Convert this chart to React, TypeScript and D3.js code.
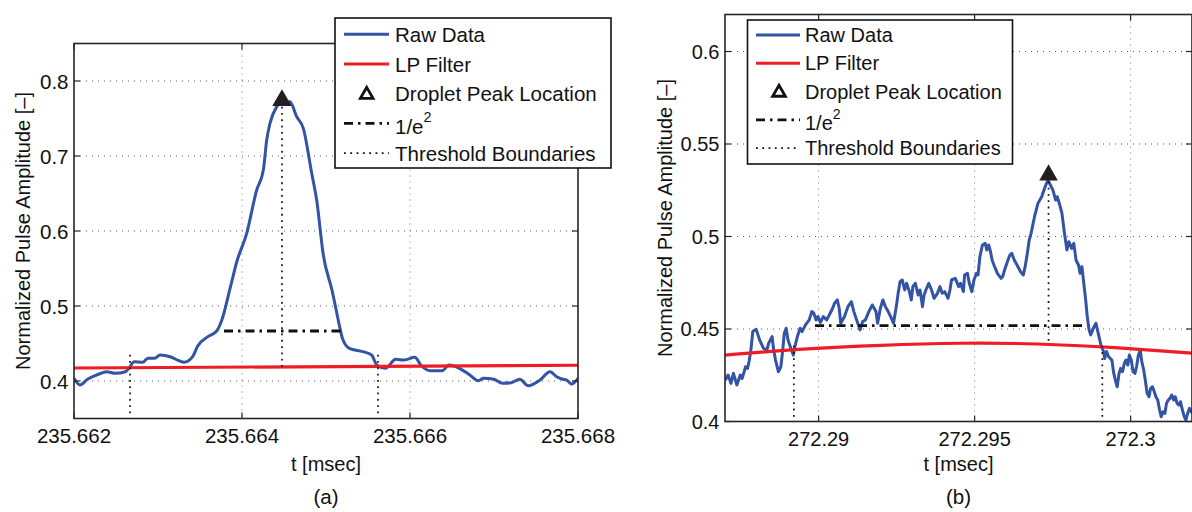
import React from 'react';
import * as d3 from 'd3';

const FONT = '"Liberation Sans", Arial, Helvetica, sans-serif';
const BLUE = '#3353a5';
const RED = '#ee1d25';
const INK = '#111111';

// ---------------- Panel (a) data ----------------
const xTicksA = [235.662, 235.664, 235.666, 235.668];
const xTickLabelsA = ['235.662', '235.664', '235.666', '235.668'];
const yTicksA = [0.4, 0.5, 0.6, 0.7, 0.8];
const yTickLabelsA = ['0.4', '0.5', '0.6', '0.7', '0.8'];

const rawTA = [
  235.662000, 235.662071, 235.662161, 235.662270, 235.662325, 235.662389, 235.662488, 235.662612, 235.662667, 235.662714,
  235.662817, 235.662879, 235.662961, 235.663024, 235.663145, 235.663248, 235.663310, 235.663412, 235.663473, 235.663595,
  235.663699, 235.663760, 235.663863, 235.663937, 235.664056, 235.664175, 235.664254, 235.664294, 235.664333, 235.664413,
  235.664473, 235.664571, 235.664651, 235.664730, 235.664830, 235.664889, 235.664968, 235.665071, 235.665174, 235.665195,
  235.665277, 235.665440, 235.665543, 235.665605, 235.665707, 235.665830, 235.665932, 235.666056, 235.666138, 235.666240,
  235.666383, 235.666465, 235.666588, 235.666712, 235.666814, 235.666876, 235.666999, 235.667101, 235.667204, 235.667307,
  235.667408, 235.667548, 235.667667, 235.667746, 235.667819, 235.667865, 235.667925, 235.668000,
];
const rawVA = [
  0.4036, 0.3947, 0.4023, 0.4080, 0.4103, 0.4124, 0.4103, 0.4124, 0.4191, 0.4257,
  0.4249, 0.4303, 0.4303, 0.4347, 0.4324, 0.4271, 0.4249, 0.4324, 0.4467, 0.4591,
  0.4667, 0.4813, 0.5257, 0.5587, 0.5969, 0.6547, 0.6813, 0.7213, 0.7436, 0.7657,
  0.7724, 0.7724, 0.7524, 0.7369, 0.6769, 0.6413, 0.5680, 0.5213, 0.4667, 0.4569,
  0.4436, 0.4391, 0.4347, 0.4213, 0.4169, 0.4289, 0.4280, 0.4316, 0.4200, 0.4137,
  0.4137, 0.4213, 0.4169, 0.4080, 0.4004, 0.4036, 0.4023, 0.3969, 0.3977, 0.4023,
  0.3937, 0.4013, 0.4124, 0.4057, 0.4023, 0.4013, 0.3960, 0.4036,
];
const lpTA = [235.662, 235.668];
const lpVA = [0.4173, 0.421];
const peakTA = 235.664476;
const peakVA = 0.7741;
const peakBaseA = 0.4195;
const e2TA = [235.663786, 235.665179];
const e2VA = 0.4667;
const thrTA = [235.662667, 235.665619];
const thrVA = [0.357, 0.441];

// ---------------- Panel (b) data ----------------
const xTicksB = [272.29, 272.295, 272.3];
const xTickLabelsB = ['272.29', '272.295', '272.3'];
const yTicksB = [0.4, 0.45, 0.5, 0.55, 0.6];
const yTickLabelsB = ['0.4', '0.45', '0.5', '0.55', '0.6'];

const rawTB = [
  272.28701, 272.28710, 272.28719, 272.28727, 272.28738, 272.28749, 272.28755, 272.28766, 272.28772, 272.28777,
  272.28783, 272.28789, 272.28800, 272.28811, 272.28823, 272.28834, 272.28840, 272.28851, 272.28856, 272.28862,
  272.28871, 272.28879, 272.28885, 272.28890, 272.28896, 272.28902, 272.28913, 272.28919, 272.28924, 272.28932,
  272.28941, 272.28947, 272.28958, 272.28970, 272.28978, 272.28984, 272.28992, 272.28998, 272.29006, 272.29015,
  272.29026, 272.29037, 272.29045, 272.29051, 272.29060, 272.29066, 272.29071, 272.29083, 272.29094, 272.29105,
  272.29113, 272.29122, 272.29133, 272.29141, 272.29150, 272.29161, 272.29172, 272.29184, 272.29189, 272.29198,
  272.29206, 272.29214, 272.29223, 272.29231, 272.29240, 272.29249, 272.29255, 272.29261, 272.29268, 272.29276,
  272.29282, 272.29291, 272.29297, 272.29302, 272.29310, 272.29319, 272.29325, 272.29333, 272.29338, 272.29344,
  272.29353, 272.29362, 272.29370, 272.29381, 272.29389, 272.29396, 272.29404, 272.29415, 272.29421, 272.29426,
  272.29438, 272.29449, 272.29455, 272.29464, 272.29468, 272.29477, 272.29483, 272.29491, 272.29498, 272.29506,
  272.29511, 272.29517, 272.29525, 272.29534, 272.29539, 272.29545, 272.29551, 272.29556, 272.29562, 272.29573,
  272.29585, 272.29590, 272.29596, 272.29607, 272.29613, 272.29619, 272.29627, 272.29636, 272.29647, 272.29656,
  272.29662, 272.29669, 272.29675,
  272.29681, 272.29692, 272.29703, 272.29715, 272.29726, 272.29735, 272.29743, 272.29751, 272.29760, 272.29765,
  272.29773, 272.29780, 272.29788, 272.29796, 272.29802, 272.29811, 272.29818, 272.29825,
  272.29833, 272.29838, 272.29844, 272.29850, 272.29856, 272.29861, 272.29867, 272.29872, 272.29883, 272.29889,
  272.29895, 272.29901, 272.29906, 272.29912, 272.29917, 272.29923, 272.29929, 272.29940, 272.29946, 272.29951,
  272.29957, 272.29963, 272.29968, 272.29974, 272.29980, 272.29985, 272.29991, 272.29996, 272.30002, 272.30008,
  272.30014, 272.30019, 272.30025, 272.30031, 272.30036, 272.30042, 272.30047, 272.30053, 272.30059, 272.30064,
  272.30070, 272.30076, 272.30081, 272.30087, 272.30093, 272.30098, 272.30104, 272.30110, 272.30115, 272.30121,
  272.30126, 272.30132, 272.30138, 272.30143, 272.30149, 272.30155, 272.30160, 272.30166, 272.30172, 272.30177,
  272.30183, 272.30189, 272.30198,
];
const rawVB = [
  0.4224, 0.4251, 0.4206, 0.4260, 0.4197, 0.4251, 0.4233, 0.4296, 0.4287, 0.4323,
  0.4386, 0.4486, 0.4498, 0.4441, 0.4396, 0.4386, 0.4423, 0.4459, 0.4386, 0.4332,
  0.4269, 0.4296, 0.4386, 0.4477, 0.4504, 0.4441, 0.4386, 0.4359, 0.4405, 0.4459,
  0.4504, 0.4486, 0.4522, 0.4549, 0.4594, 0.4588, 0.4549, 0.4567, 0.4536, 0.4567,
  0.4549, 0.4585, 0.4612, 0.4639, 0.4657, 0.4612, 0.4531, 0.4567, 0.4621, 0.4648,
  0.4594, 0.4549, 0.4495, 0.4540, 0.4549, 0.4594, 0.4630, 0.4594, 0.4531, 0.4612,
  0.4657, 0.4621, 0.4594, 0.4567, 0.4531, 0.4621, 0.4693, 0.4756, 0.4765, 0.4711,
  0.4747, 0.4702, 0.4657, 0.4729, 0.4747, 0.4684, 0.4711, 0.4621, 0.4684, 0.4711,
  0.4747, 0.4711, 0.4666, 0.4693, 0.4729, 0.4693, 0.4702, 0.4666, 0.4711, 0.4765,
  0.4774, 0.4729, 0.4747, 0.4702, 0.4792, 0.4801, 0.4747, 0.4702, 0.4765, 0.4801,
  0.4792, 0.4891, 0.4954, 0.4963, 0.4927, 0.4954, 0.4918, 0.4873, 0.4846, 0.4801,
  0.4774, 0.4783, 0.4819, 0.4873, 0.4900, 0.4909, 0.4873, 0.4846, 0.4810, 0.4792,
  0.4837, 0.4909, 0.4981,
  0.5017, 0.5107, 0.5179, 0.5215, 0.5269, 0.5305, 0.5278, 0.5251, 0.5197, 0.5215,
  0.5170, 0.5125, 0.5017, 0.4927, 0.4972, 0.4936, 0.4963, 0.4873,
  0.4846, 0.4801, 0.4837, 0.4747, 0.4657, 0.4567, 0.4495, 0.4468, 0.4513, 0.4531,
  0.4486, 0.4441, 0.4405, 0.4386, 0.4341, 0.4378, 0.4351, 0.4332, 0.4260, 0.4224,
  0.4188, 0.4260, 0.4287, 0.4269, 0.4314, 0.4332, 0.4305, 0.4359, 0.4332, 0.4269,
  0.4260, 0.4296, 0.4359, 0.4386, 0.4323, 0.4278, 0.4224, 0.4152, 0.4134, 0.4179,
  0.4188, 0.4161, 0.4134, 0.4116, 0.4062, 0.4026, 0.4053, 0.4044, 0.4098, 0.4116,
  0.4125, 0.4143, 0.4116, 0.4134, 0.4098, 0.4089, 0.4107, 0.4062, 0.4026, 0.4008,
  0.4044, 0.4071, 0.4044,
];
const lpTB = [272.287, 272.2895, 272.292, 272.2945, 272.297, 272.2995, 272.302];
const lpVB = [0.4359, 0.4391, 0.4412, 0.4423, 0.4419, 0.4399, 0.4369];
const peakTB = 272.29737;
const peakVB = 0.5332;
const peakBaseB = 0.4414;
const e2TB = [272.289885, 272.298602];
const e2VB = 0.4518;
const thrTB = [272.289208, 272.299093];
const thrVB = [0.4026, 0.441];

const legendLabels = ['Raw Data', 'LP Filter', 'Droplet Peak Location', '1/e', 'Threshold Boundaries'];

const DASHDOT = '9,5,2.5,5';
const DOTTED = '1.8,4.5';

const panelA = {
  id: 'a', caption: '(a)',
  left: 74, right: 578, top: 43.5, bottom: 418.5,
  xDomain: [235.662, 235.668], yDomain: [0.35, 0.85],
  xTicks: xTicksA, xTickLabels: xTickLabelsA, yTicks: yTicksA, yTickLabels: yTickLabelsA,
  rawT: rawTA, rawV: rawVA, rawCurve: d3.curveMonotoneX,
  lpT: lpTA, lpV: lpVA,
  peakT: peakTA, peakV: peakVA, peakBase: peakBaseA, triSize: 165,
  e2T: e2TA, e2V: e2VA, thrT: thrTA, thrV: thrVA,
  yTitleX: 30, tickFont: 20.5,
  legend: { x: 335, y: 18, w: 276, h: 150, row0: 34.3, step: 29.7, s0: 344, s1: 389, triX: 366.7, textX: 395, font: 20.5 },
};
const panelB = {
  id: 'b', caption: '(b)',
  left: 725, right: 1192, top: 14.5, bottom: 421.5,
  xDomain: [272.287, 272.3019676], yDomain: [0.4, 0.62],
  xTicks: xTicksB, xTickLabels: xTickLabelsB, yTicks: yTicksB, yTickLabels: yTickLabelsB,
  rawT: rawTB, rawV: rawVB, rawCurve: d3.curveLinear,
  lpT: lpTB, lpV: lpVB,
  peakT: peakTB, peakV: peakVB, peakBase: peakBaseB, triSize: 150,
  e2T: e2TB, e2V: e2VB, thrT: thrTB, thrV: thrVB,
  yTitleX: 671.5, tickFont: 20,
  legend: { x: 747.5, y: 20, w: 265, h: 144, row0: 35, step: 28.3, s0: 756, s1: 800, triX: 779, textX: 805, font: 20 },
};

function Legend({ L }: any) {
  const rows = legendLabels.map((_, i) => L.row0 + i * L.step);
  const tri = d3.symbol().type(d3.symbolTriangle).size(70)();
  return (
    <g>
      <rect x={L.x} y={L.y} width={L.w} height={L.h} fill="#fff" stroke={INK} strokeWidth={1.6} />
      <line x1={L.s0} x2={L.s1} y1={rows[0]} y2={rows[0]} stroke={BLUE} strokeWidth={3} />
      <line x1={L.s0} x2={L.s1} y1={rows[1]} y2={rows[1]} stroke={RED} strokeWidth={3} />
      <path d={tri as string} transform={`translate(${L.triX},${rows[2] + 1})`} fill="#fff" stroke={INK} strokeWidth={2.8} strokeLinejoin="miter" />
      <line x1={L.s0} x2={L.s1} y1={rows[3]} y2={rows[3]} stroke={INK} strokeWidth={2.8} strokeDasharray={DASHDOT} />
      <line x1={L.s0} x2={L.s1} y1={rows[4]} y2={rows[4]} stroke={INK} strokeWidth={1.7} strokeDasharray={DOTTED} />
      {legendLabels.map((lab, i) => (
        <text key={i} x={L.textX} y={rows[i] + (i === 3 ? 3 : 0)} fontSize={L.font} fill={INK} dominantBaseline="central">
          {lab}
          {i === 3 ? <tspan fontSize={L.font * 0.7} dy={-9}>2</tspan> : null}
        </text>
      ))}
    </g>
  );
}

function Panel({ c }: any) {
  const x = d3.scaleLinear().domain(c.xDomain).range([c.left, c.right]);
  const y = d3.scaleLinear().domain(c.yDomain).range([c.bottom, c.top]);
  const rawPts: [number, number][] = c.rawT.slice(0, Math.min(c.rawT.length, c.rawV.length)).map((t: number, i: number) => [t, c.rawV[i]]);
  const lpPts: [number, number][] = c.lpT.map((t: number, i: number) => [t, c.lpV[i]]);
  const rawPath = d3.line<[number, number]>().x(d => x(d[0])).y(d => y(d[1])).curve(c.rawCurve)(rawPts) as string;
  const lpPath = d3.line<[number, number]>().x(d => x(d[0])).y(d => y(d[1])).curve(d3.curveNatural)(lpPts) as string;
  const tri = d3.symbol().type(d3.symbolTriangle).size(c.triSize)() as string;
  const clipId = `clip-${c.id}`;
  const cx = (c.left + c.right) / 2;
  const cy = (c.top + c.bottom) / 2;
  const tick = 6;
  return (
    <g>
      <defs>
        <clipPath id={clipId}>
          <rect x={c.left} y={c.top} width={c.right - c.left} height={c.bottom - c.top} />
        </clipPath>
      </defs>
      {/* grid */}
      {c.xTicks.filter((t: number) => x(t) > c.left + 2 && x(t) < c.right - 2).map((t: number) => (
        <line key={`gx${t}`} x1={x(t)} x2={x(t)} y1={c.top} y2={c.bottom} stroke="#7a7a7a" strokeWidth={1} strokeDasharray="1,5" />
      ))}
      {c.yTicks.filter((v: number) => y(v) > c.top + 2 && y(v) < c.bottom - 2).map((v: number) => (
        <line key={`gy${v}`} x1={c.left} x2={c.right} y1={y(v)} y2={y(v)} stroke="#5a5a5a" strokeWidth={1} strokeDasharray="1,5" />
      ))}
      <g clipPath={`url(#${clipId})`}>
        <path d={rawPath} fill="none" stroke={BLUE} strokeWidth={3} strokeLinejoin="round" />
        <path d={lpPath} fill="none" stroke={RED} strokeWidth={3.2} />
        {/* 1/e^2 */}
        <line x1={x(c.e2T[0])} x2={x(c.e2T[1])} y1={y(c.e2V)} y2={y(c.e2V)} stroke={INK} strokeWidth={2.8} strokeDasharray={DASHDOT} />
        {/* thresholds */}
        {c.thrT.map((t: number) => (
          <line key={`th${t}`} x1={x(t)} x2={x(t)} y1={y(c.thrV[0])} y2={y(c.thrV[1])} stroke={INK} strokeWidth={1.7} strokeDasharray={DOTTED} />
        ))}
        {/* peak line */}
        <line x1={x(c.peakT)} x2={x(c.peakT)} y1={y(c.peakV)} y2={y(c.peakBase)} stroke={INK} strokeWidth={1.7} strokeDasharray={DOTTED} />
        <path d={tri} transform={`translate(${x(c.peakT)},${y(c.peakV)})`} fill="#231f20" />
      </g>
      {/* frame */}
      <rect x={c.left} y={c.top} width={c.right - c.left} height={c.bottom - c.top} fill="none" stroke="#262626" strokeWidth={1.6} />
      {/* ticks */}
      {c.xTicks.map((t: number) => (
        <g key={`tx${t}`}>
          <line x1={x(t)} x2={x(t)} y1={c.bottom} y2={c.bottom - tick} stroke="#262626" strokeWidth={1.2} />
          <line x1={x(t)} x2={x(t)} y1={c.top} y2={c.top + tick} stroke="#262626" strokeWidth={1.2} />
        </g>
      ))}
      {c.yTicks.map((v: number) => (
        <g key={`ty${v}`}>
          <line x1={c.left} x2={c.left + tick} y1={y(v)} y2={y(v)} stroke="#262626" strokeWidth={1.2} />
          <line x1={c.right} x2={c.right - tick} y1={y(v)} y2={y(v)} stroke="#262626" strokeWidth={1.2} />
        </g>
      ))}
      {/* tick labels */}
      {c.xTicks.map((t: number, i: number) => (
        <text key={`lx${t}`} x={x(t)} y={c.bottom + 24.5} textAnchor="middle" fontSize={c.tickFont} fill={INK}>{c.xTickLabels[i]}</text>
      ))}
      {c.yTicks.map((v: number, i: number) => (
        <text key={`ly${v}`} x={c.left - 5.5} y={y(v)} textAnchor="end" dominantBaseline="central" fontSize={c.tickFont} fill={INK}>{c.yTickLabels[i]}</text>
      ))}
      {/* titles */}
      <text x={cx} y={470.5} textAnchor="middle" fontSize={20} fill={INK}>t [msec]</text>
      <text x={cx} y={503.5} textAnchor="middle" fontSize={20.5} fill={INK}>{c.caption}</text>
      <text transform={`translate(${c.yTitleX},${cy}) rotate(-90)`} textAnchor="middle" fontSize={20} fill={INK}>Normalized Pulse Amplitude [–]</text>
      <Legend L={c.legend} />
    </g>
  );
}

export default function App() {
  return (
    <svg width={1192} height={512} style={{ position: 'absolute', left: 0, top: 0, background: '#fff' }} fontFamily={FONT}>
      <rect x={0} y={0} width={1192} height={512} fill="#fff" />
      <Panel c={panelA} />
      <Panel c={panelB} />
    </svg>
  );
}
